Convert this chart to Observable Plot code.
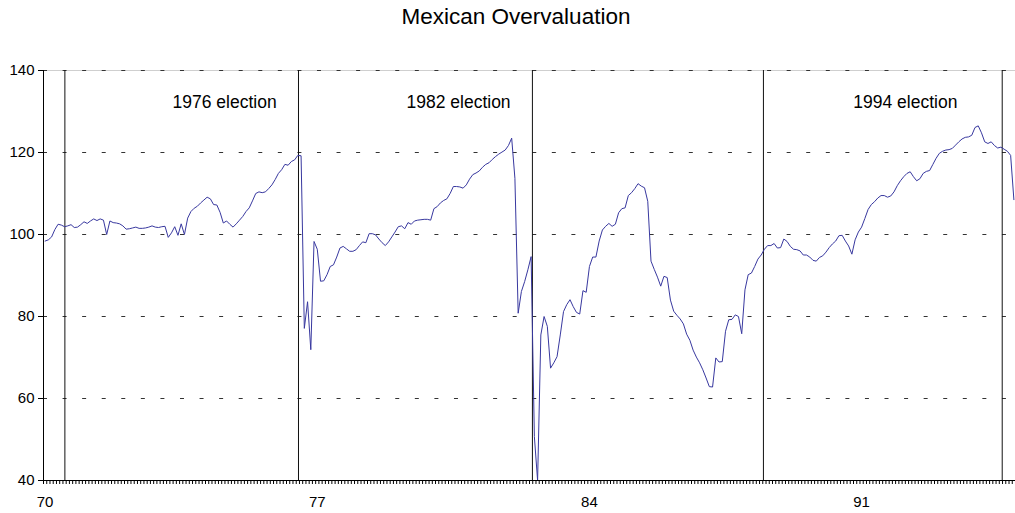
<!DOCTYPE html>
<html><head><meta charset="utf-8">
<script src="https://cdn.jsdelivr.net/npm/d3@7"></script>
<script src="https://cdn.jsdelivr.net/npm/@observablehq/plot@0.6"></script>
<style>
html,body{margin:0;padding:0;background:#fff;font-family:"Liberation Sans",Arial,sans-serif;}
#title{box-sizing:border-box;height:40px;width:1015px;padding-left:17px;text-align:center;font-size:22.5px;line-height:34px;color:#000;}
#chart svg{display:block;}
</style></head><body>
<div id="title">Mexican Overvaluation</div>
<div id="chart"></div>
<script>
// Monthly real exchange rate index, Jan 1970 .. Dec 1994 (one row per year)
const values = [
  98.4, 98.7, 99.4,101.2,102.5,102.3,101.9,102.1,102.4,101.7,101.8,102.4, // 1970
 103.1,102.7,103.3,103.8,103.4,103.8,103.5,100.0,103.3,102.9,102.8,102.6, // 1971
 102.1,101.3,101.4,101.6,101.8,101.5,101.5,101.6,101.8,102.1,101.8,101.7, // 1972
 101.9,102.0, 99.3,100.4,101.9, 99.8,102.6,100.0,104.0,105.6,106.4,106.9, // 1973
 107.7,108.4,109.1,108.7,107.3,107.2,105.4,102.8,103.3,102.5,101.8,102.6, // 1974
 103.5,104.4,105.6,106.5,108.2,110.0,110.4,110.2,110.4,111.2,112.1,113.4, // 1975
 114.9,115.8,117.1,116.9,117.8,118.2,119.3,119.2, 77.1, 83.6, 71.9, 98.3, // 1976
  96.4, 88.6, 88.7, 90.2, 92.2, 92.6, 94.5, 96.7, 97.1, 96.5, 95.9, 95.9, // 1977
  96.3, 97.3, 98.2, 98.0,100.2,100.2, 99.9, 98.9, 98.0, 97.3, 98.2, 99.4, // 1978
 100.6,101.9,102.1,101.4,102.9,102.5,103.3,103.5,103.6,103.7,103.7,103.5, // 1979
 106.3,106.8,107.7,108.3,108.7,110.0,111.7,111.7,111.6,111.3,112.1,113.5, // 1980
 114.6,115.0,115.5,116.4,117.1,117.5,118.3,119.0,119.6,120.1,120.6,121.7, // 1981
 123.5,113.7, 80.8, 86.1, 88.5, 91.4, 94.6, 50.7, 40.0, 75.5, 80.0, 77.6, // 1982
  67.4, 68.7, 70.2, 75.5, 81.2, 82.9, 84.1, 82.4, 81.0, 80.6, 86.3, 85.9, // 1983
  92.2, 94.5, 94.5, 98.4,101.1,102.0,102.7,102.0,102.5,105.3,106.3,106.5, // 1984
 109.5,110.2,111.2,112.4,111.8,111.4,108.1, 93.5, 91.5, 89.6, 87.4, 89.8, // 1985
  89.5, 84.0, 81.3, 80.3, 79.4, 78.2, 75.7, 74.2, 71.8, 70.1, 68.7, 67.0, // 1986
  65.0, 62.9, 62.8, 69.9, 68.9, 69.0, 76.4, 79.2, 79.3, 80.4, 80.0, 75.8, // 1987
  86.5, 90.2, 90.6, 92.2, 94.0, 95.0, 96.4, 97.3, 97.3, 97.8, 96.7, 96.8, // 1988
  98.9, 98.3, 97.1, 96.4, 96.3, 96.0, 95.0, 95.0, 94.5, 93.7, 93.5, 94.4, // 1989
  94.8, 95.7, 96.8, 97.7, 98.4, 99.7, 99.8, 98.4, 97.2, 95.2, 98.7,100.6, // 1990
 101.8,103.9,106.1,107.3,108.0,108.9,109.5,109.5,109.1,109.4,110.4,111.9, // 1991
 113.1,114.1,114.9,115.3,114.1,113.1,113.6,114.9,115.4,115.6,117.1,118.6, // 1992
 119.8,120.3,120.6,120.7,121.0,121.8,122.6,123.3,123.7,123.8,124.2,126.1, // 1993
 126.5,124.8,122.6,122.2,122.6,121.7,121.1,121.3,120.8,120.3,119.3,108.5  // 1994
];
// month index (0 = Jan 1970)
const monthIndex = values.map((v, i) => i);

const yTicks = [40, 60, 80, 100, 120, 140];
const gridLevels = [60, 80, 100, 120, 140];
const xTickMonths = [0, 84, 168, 252];
const xTickLabels = ["70", "77", "84", "91"];
// elections (month index): Jul 1970, Jul 1976, Jul 1982, Jul 1988, Aug 1994
const electionMonths = [6.1, 78.2, 150.4, 221.7, 295.4];
const electionLabels = ["1976 election", "1982 election", "1994 election"];
const electionLabelMonth = [55.4, 127.6, 265.5];
const electionLabelLevel = [132.2, 132.2, 132.2];

const series = monthIndex.map((m, i) => ({m, v: values[i]}));
const annotations = electionLabels.map((t, i) => ({t, m: electionLabelMonth[i], v: electionLabelLevel[i]}));
const minorTicks = d3.range(-0.5, values.length, 1);
const yMin = 40, yMax = 140, plotInnerHeight = 410, minorTickPx = 4;
const minorTickEnd = yMin - minorTickPx * (yMax - yMin) / plotInnerHeight;

const chart = Plot.plot({
  width: 1015,
  height: 473,
  marginLeft: 43,
  marginRight: 0,
  marginTop: 30,
  marginBottom: 33,
  style: {fontFamily: "'Liberation Sans', Arial, sans-serif", fontSize: "15px", color: "#000", background: "#fff", overflow: "visible"},
  x: {type: "linear", domain: [-0.5, values.length - 0.5], label: null},
  y: {domain: [yMin, yMax], label: null},
  marks: [
    Plot.ruleY([yMax], {stroke: "#cfcfcf"}),
    Plot.ruleY(gridLevels, {stroke: "#333", strokeDasharray: "4,15.57"}),
    Plot.ruleX(electionMonths, {stroke: "#111", strokeWidth: 1}),
    Plot.line(series, {x: "m", y: "v", stroke: "#38389f", strokeWidth: 1}),
    Plot.ruleX(minorTicks, {x: d => d, y1: yMin, y2: minorTickEnd, stroke: "#000", strokeWidth: 1}),
    Plot.ruleX([-0.5], {stroke: "#000"}),
    Plot.ruleY([yMin], {stroke: "#000"}),
    Plot.axisY(yTicks, {tickSize: 5, tickPadding: 4, fontSize: 15, stroke: "#000"}),
    Plot.axisX(xTickMonths, {tickSize: 0, tickPadding: 16, fontSize: 15, tickFormat: d => xTickLabels[xTickMonths.indexOf(d)]}),
    Plot.text(annotations, {x: "m", y: "v", text: "t", fontSize: 17.5, fill: "#000"})
  ]
});
document.getElementById("chart").appendChild(chart);
</script>
</body></html>
